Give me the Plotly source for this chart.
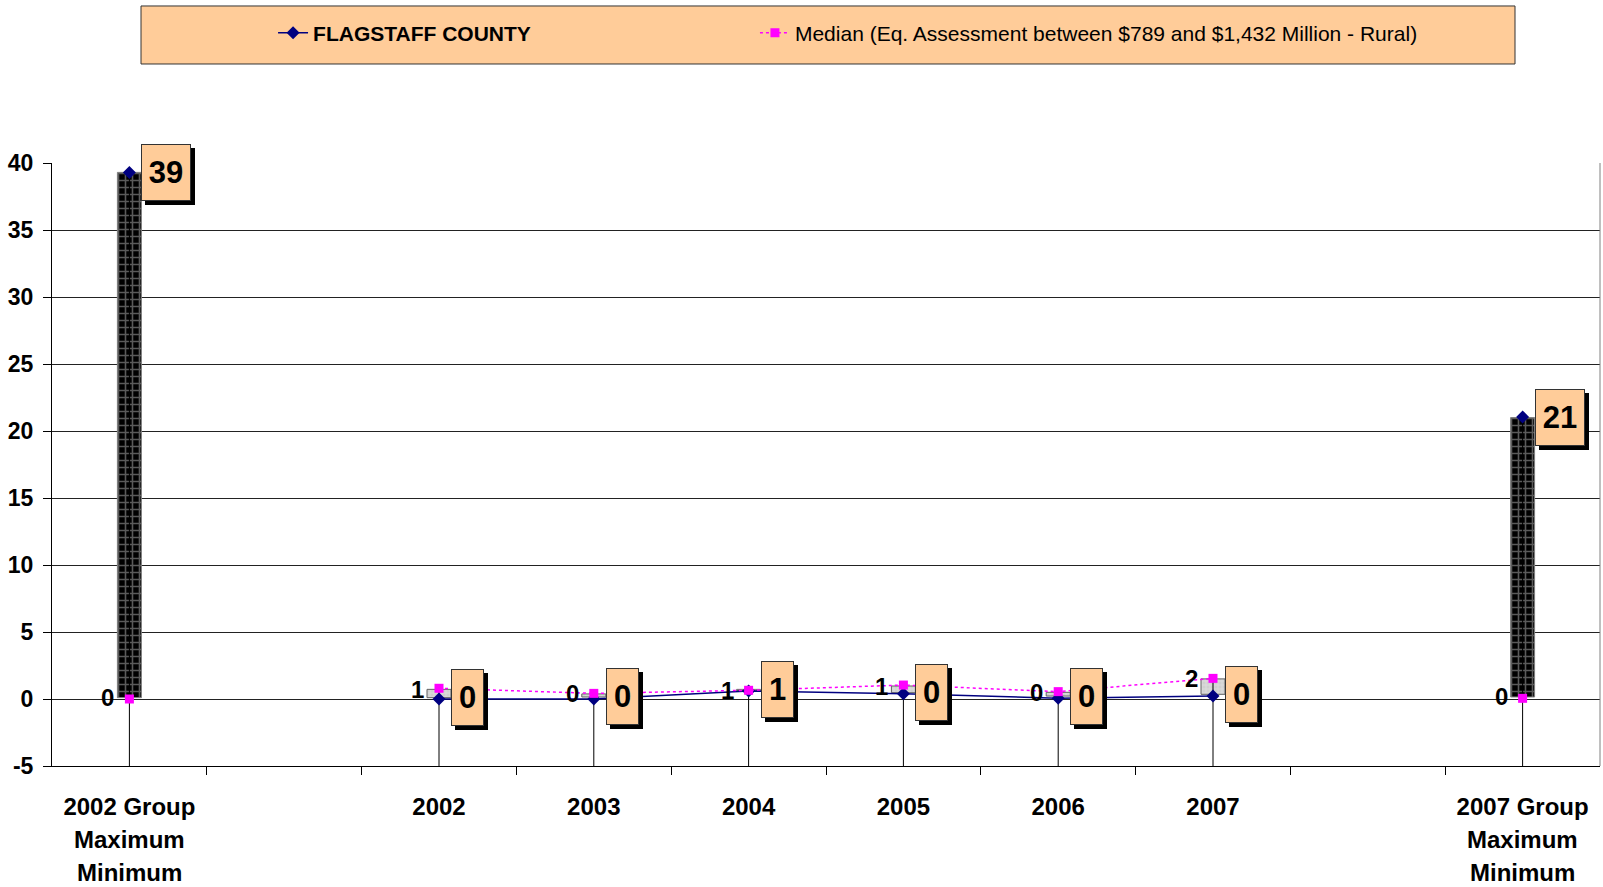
import plotly.graph_objects as go

# ---------------- data ----------------
categories = ["2002 Group", "", "2002", "2003", "2004", "2005", "2006", "2007", "", "2007 Group"]
category_sublines = [["Maximum", "Minimum"], [], [], [], [], [], [], [], [], ["Maximum", "Minimum"]]
flagstaff = [39.3, None, 0.0, 0.0, 0.6, 0.4, 0.05, 0.22, None, 21.05]
median = [0.0, None, 0.8, 0.42, 0.65, 1.04, 0.55, 1.54, None, 0.05]
bar_open = [0.1, None, 0.72, 0.38, 0.6, 0.97, 0.5, 1.5, None, 0.15]
bar_close = [39.3, None, 0.1, 0.15, 0.72, 0.47, 0.22, 0.35, None, 21.0]
y_ticks = [-5, 0, 5, 10, 15, 20, 25, 30, 35, 40]
y_tick_labels = ["-5", "0", "5", "10", "15", "20", "25", "30", "35", "40"]
Y_MIN, Y_MAX = -5, 40

legend_flag = "FLAGSTAFF COUNTY"
legend_median = "Median (Eq. Assessment between $789 and $1,432 Million - Rural)"

# ---------------- styles ----------------
FONT = "Liberation Sans, Arial, sans-serif"
ORANGE = "#FFCC99"
NAVY = "#000080"
MAGENTA = "#FF00FF"
BAR_W = 0.155          # in category units
HALF_BAR_PX = 12

x_pos = list(range(len(categories)))

fig = go.Figure()

# high-low lines (from the highest value down to the bottom of the axis)
hl_x, hl_y = [], []
for i in x_pos:
    vals = [v for v in (flagstaff[i], median[i], bar_open[i], bar_close[i]) if v is not None]
    if vals:
        hl_x += [i, i, None]
        hl_y += [max(vals), Y_MIN, None]
fig.add_trace(go.Scatter(x=hl_x, y=hl_y, mode="lines", line=dict(color="black", width=1),
                         showlegend=False, hoverinfo="skip"))

# up / down bars
up_x, up_base, up_h, dn_x, dn_base, dn_h = [], [], [], [], [], []
for i in x_pos:
    o, c = bar_open[i], bar_close[i]
    if o is None or c is None:
        continue
    if c >= o:
        up_x.append(i); up_base.append(o); up_h.append(c - o)
    else:
        dn_x.append(i); dn_base.append(c); dn_h.append(o - c)

fig.add_trace(go.Bar(x=up_x, y=up_h, base=up_base, width=BAR_W, showlegend=False, hoverinfo="skip",
                     marker=dict(color="#000000", line=dict(color="#808080", width=1),
                                 pattern=dict(shape="+", fgcolor="#b4b4b4", bgcolor="#000000",
                                              size=7, solidity=0.4))))
fig.add_trace(go.Bar(x=dn_x, y=dn_h, base=dn_base, width=BAR_W, showlegend=False, hoverinfo="skip",
                     marker=dict(color="#d8d8d8", line=dict(color="#606060", width=1),
                                 pattern=dict(shape="+", fgcolor="#f2f2f2", bgcolor="#d0d0d0",
                                              size=4, solidity=0.3))))

# series lines
fig.add_trace(go.Scatter(x=x_pos, y=flagstaff, name="<b>" + legend_flag + "</b>",
                         mode="lines+markers", connectgaps=False, legend="legend",
                         line=dict(color=NAVY, width=1.5),
                         marker=dict(symbol="diamond", size=10, color=NAVY)))
fig.add_trace(go.Scatter(x=x_pos, y=median, name=legend_median, mode="lines+markers",
                         connectgaps=False, legend="legend2",
                         line=dict(color=MAGENTA, width=1.5, dash="dot"),
                         marker=dict(symbol="square", size=9, color=MAGENTA)))

annotations = []
for i in x_pos:
    o, c = bar_open[i], bar_close[i]
    if o is None or c is None:
        continue
    ol = f"{o:.0f}"
    cl = f"{c:.0f}"
    # open label (left of bar)
    annotations.append(dict(x=i, y=o, xref="x", yref="y", text=ol, showarrow=False,
                            xanchor="right", yanchor="middle", xshift=-HALF_BAR_PX - 1,
                            font=dict(family=FONT, size=24, color="black", weight="bold")))
    bw = 14 + 17 * len(cl)
    # shadow (empty box)
    annotations.append(dict(x=i, y=c, xref="x", yref="y", text=" ", showarrow=False,
                            xanchor="left", yanchor="middle", xshift=HALF_BAR_PX + 4, yshift=-4,
                            width=bw, height=55, bgcolor="black", bordercolor="black",
                            borderwidth=1, borderpad=0,
                            font=dict(family=FONT, size=30, color="black")))
    # box
    annotations.append(dict(x=i, y=c, xref="x", yref="y", text=cl, showarrow=False,
                            xanchor="left", yanchor="middle", xshift=HALF_BAR_PX,
                            width=bw, height=55, bgcolor=ORANGE, bordercolor="#333333",
                            borderwidth=1, borderpad=0,
                            font=dict(family=FONT, size=31, color="black", weight="bold")))

# extra category label lines
for i in x_pos:
    for k, line in enumerate(category_sublines[i]):
        annotations.append(dict(x=i, y=0, xref="x", yref="paper", text=line, showarrow=False,
                                xanchor="center", yanchor="middle", yshift=-73 - 33 * k,
                                font=dict(family=FONT, size=24, color="black", weight="bold")))

shapes = [
    # legend box
    dict(type="rect", xref="paper", yref="paper", x0=0.0575, x1=0.9451, y0=1.1642, y1=1.2604,
         fillcolor=ORANGE, line=dict(color="#333333", width=1), layer="below"),
    # right border of plot area
    dict(type="line", xref="paper", yref="paper", x0=1, x1=1, y0=0, y1=1,
         line=dict(color="#808080", width=1)),
]

fig.update_layout(
    width=1603, height=887,
    margin=dict(l=52, r=3, t=163, b=121),
    paper_bgcolor="white", plot_bgcolor="white",
    barmode="overlay",
    font=dict(family=FONT, color="black"),
    showlegend=True,
    legend=dict(orientation="h", x=0.1428, y=1.2156, xanchor="left", yanchor="middle",
                bgcolor="rgba(0,0,0,0)",
                font=dict(family=FONT, size=21, color="black")),
    legend2=dict(orientation="h", x=0.4541, y=1.2156, xanchor="left", yanchor="middle",
                 bgcolor="rgba(0,0,0,0)",
                 font=dict(family=FONT, size=21, color="black")),
    annotations=annotations,
    shapes=shapes,
    xaxis=dict(range=[-0.5, 9.5], tickvals=x_pos, ticktext=categories,
               showgrid=False, zeroline=False, showline=True, linecolor="black", linewidth=1,
               ticks="", ticklabelstandoff=19,
               tickfont=dict(family=FONT, size=24, color="black", weight="bold"),
               minor=dict(tickvals=[i + 0.5 for i in x_pos[:-1]], ticks="outside", ticklen=8,
                          tickcolor="black", tickwidth=1, showgrid=False)),
    yaxis=dict(range=[Y_MIN, Y_MAX], tickvals=y_ticks, ticktext=y_tick_labels,
               showgrid=True, gridcolor="#222222",
               gridwidth=1, zeroline=False, showline=True, linecolor="black", linewidth=1,
               ticks="outside", ticklen=8, tickcolor="black", ticklabelstandoff=5,
               tickfont=dict(family=FONT, size=23, color="black", weight="bold")),
)

fig.write_html("out.html", config={"displayModeBar": False},
               post_script="document.body.style.margin='0';document.body.style.overflow='hidden';")
